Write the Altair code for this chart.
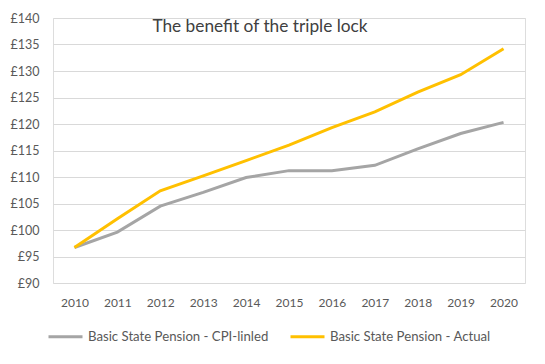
import altair as alt
import pandas as pd

years = ["2010", "2011", "2012", "2013", "2014", "2015", "2016", "2017", "2018", "2019", "2020"]
cpi_linked = [96.7, 99.6, 104.5, 107.1, 109.9, 111.2, 111.2, 112.2, 115.3, 118.2, 120.3]
actual = [96.7, 102.1, 107.4, 110.2, 113.1, 116.0, 119.3, 122.3, 126.0, 129.3, 134.2]
series_names = ["Basic State Pension - CPI-linled", "Basic State Pension - Actual"]
series_colors = ["#A5A5A5", "#FFC000"]
title_text = "The benefit of the triple lock"
y_ticks = [90, 95, 100, 105, 110, 115, 120, 125, 130, 135, 140]

rows = []
for name, vals in zip(series_names, [cpi_linked, actual]):
    for yr, v in zip(years, vals):
        rows.append({"Year": yr, "Value": v, "Series": name})
df = pd.DataFrame(rows)

W, H = 472, 265
FONT = "Lato"
TXT = "#595959"

lines = alt.Chart(df).mark_line(strokeWidth=3, strokeCap="butt", strokeJoin="miter").encode(
    x=alt.X("Year:O", sort=years,
            scale=alt.Scale(type="point", padding=0.5),
            axis=alt.Axis(title=None, labelAngle=0, ticks=False, domain=False, grid=False,
                          labelPadding=14, labelFont=FONT, labelFontSize=12, labelColor=TXT)),
    y=alt.Y("Value:Q", scale=alt.Scale(domain=[90, 140], nice=False, zero=False),
            axis=alt.Axis(title=None, values=y_ticks, labelExpr="'£' + datum.value",
                          ticks=False, domain=False, gridColor="#D9D9D9", gridWidth=1,
                          labelPadding=14, labelFont=FONT, labelFontSize=12.5, labelColor=TXT)),
    color=alt.Color("Series:N", sort=series_names,
                    scale=alt.Scale(domain=series_names, range=series_colors),
                    legend=alt.Legend(title=None, orient="none", legendX=-6, legendY=300,
                                      direction="horizontal", columns=2, columnPadding=15,
                                      symbolType="stroke", symbolSize=1156, symbolStrokeWidth=3,
                                      labelOffset=4, labelFont=FONT, labelFontSize=13.2,
                                      labelColor=TXT, labelLimit=300)),
    order=alt.Order("Year:O"),
)

title_df = pd.DataFrame({"t": [title_text]})
title = alt.Chart(title_df).mark_text(font=FONT, fontSize=17.3, color="#404040",
                                      align="center", baseline="middle").encode(
    text="t:N", x=alt.value(207), y=alt.value(9)
)

chart = alt.layer(lines, title).properties(
    width=W, height=H,
    autosize=alt.AutoSizeParams(type="none"),
    padding={"left": 45, "top": 10, "right": 10, "bottom": 70},
).configure_view(stroke=None).configure(background="white")

chart.save("out.html", embed_options={"renderer": "svg", "actions": False})
